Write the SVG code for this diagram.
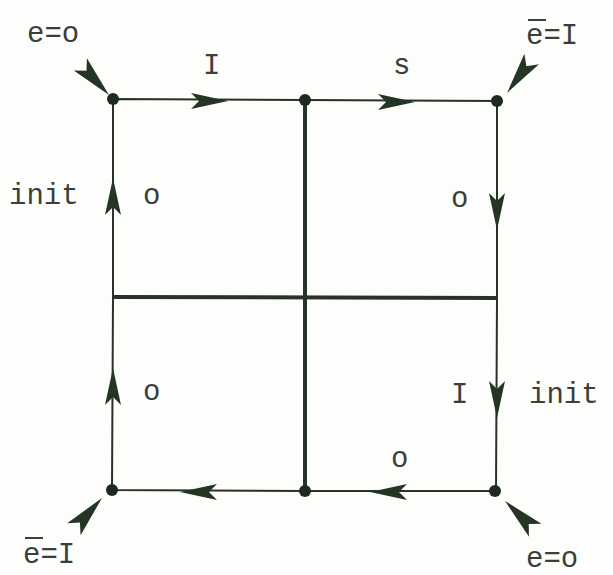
<svg xmlns="http://www.w3.org/2000/svg" xmlns:xlink="http://www.w3.org/1999/xlink" width="613" height="575" viewBox="0 0 613 575">
<style>
.t{font-family:"Liberation Mono","DejaVu Sans Mono",monospace;font-size:29px;fill:#3a3f3a}
.thin{stroke:#263326;stroke-width:2;fill:none}
.thick{stroke:#263326;stroke-width:4;fill:none}
.ah{fill:#243524}
.dot{fill:#1f2a1f}
</style>
<defs>
<path id="a" class="ah" d="M0,0 L-37,-8 L-29,0 L-37,8 Z"/>
<path id="c" class="ah" d="M0,0 L-42,-9 L-33,0 L-42,9 Z"/>
</defs>
<rect width="613" height="575" fill="#fdfdfb"/>
<g id="connectors">
<path class="thin" d="M113,99 L305,100 L497,101 L497,298 L496,491 L305,491 L112,490 L113,297 Z"/>
<path class="thick" d="M305,100 L305,491"/>
<path class="thick" d="M113,297 L497,298"/>
<use href="#a" transform="translate(228,101)"/>
<use href="#a" transform="translate(415,102)"/>
<use href="#a" transform="translate(113,178) rotate(-90)"/>
<use href="#a" transform="translate(113,368) rotate(-90)"/>
<use href="#a" transform="translate(497,230) rotate(90)"/>
<use href="#a" transform="translate(497,418) rotate(90)"/>
<use href="#a" transform="translate(180,492) rotate(180)"/>
<use href="#a" transform="translate(370,492) rotate(180)"/>
<use href="#c" transform="translate(109,95) rotate(47)"/>
<use href="#c" transform="translate(507,93) rotate(126)"/>
<use href="#c" transform="translate(102,498) rotate(-48)"/>
<use href="#c" transform="translate(505,501) rotate(-136)"/>
</g>
<g id="n-tl"><circle class="dot" cx="113" cy="99" r="6"/><text class="t" x="27" y="42">e=o</text></g>
<g id="n-tm"><circle class="dot" cx="305" cy="100" r="6"/></g>
<g id="n-tr"><circle class="dot" cx="497" cy="101" r="6"/><text class="t" x="526" y="44">e=I</text><line x1="528" y1="20" x2="546" y2="20" stroke="#3a3f3a" stroke-width="2"/></g>
<g id="n-bl"><circle class="dot" cx="112" cy="490" r="6"/><text class="t" x="23" y="563">e=I</text><line x1="25" y1="538" x2="43" y2="538" stroke="#3a3f3a" stroke-width="2"/></g>
<g id="n-bm"><circle class="dot" cx="305" cy="491" r="6"/></g>
<g id="n-br"><circle class="dot" cx="495" cy="491" r="6"/><text class="t" x="526" y="567">e=o</text></g>
<g id="labels">
<text class="t" x="203" y="74">I</text>
<text class="t" x="393" y="74">s</text>
<text class="t" x="9" y="204">init</text>
<text class="t" x="143" y="204">o</text>
<text class="t" x="451" y="207">o</text>
<text class="t" x="143" y="400">o</text>
<text class="t" x="451" y="403">I</text>
<text class="t" x="529" y="403">init</text>
<text class="t" x="391" y="467">o</text>
</g>
</svg>
